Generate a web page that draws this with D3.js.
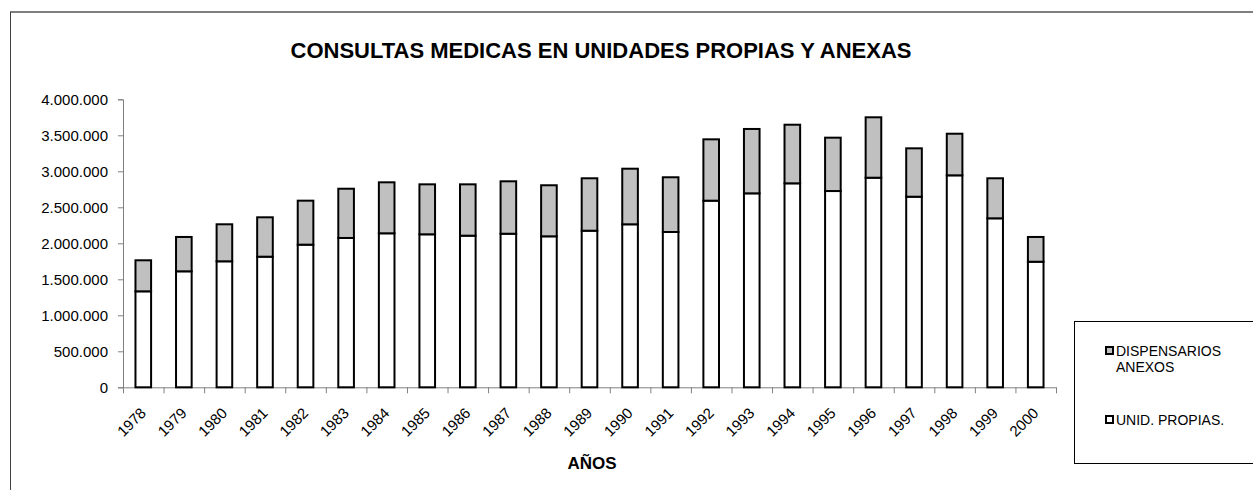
<!DOCTYPE html>
<html>
<head>
<meta charset="utf-8">
<script src="https://cdn.jsdelivr.net/npm/d3@7"></script>
<style>
  html, body { margin: 0; padding: 0; background: #fff; }
  svg { display: block; font-family: "Liberation Sans", Arial, sans-serif; }
</style>
</head>
<body>
<svg id="chart" width="1253" height="490"></svg>
<script>
const years = ["1978","1979","1980","1981","1982","1983","1984","1985","1986","1987","1988","1989","1990","1991","1992","1993","1994","1995","1996","1997","1998","1999","2000"];
const propias = [1333000,1611000,1750000,1814000,1981000,2074000,2139000,2125000,2106000,2133000,2097000,2175000,2264000,2157000,2592000,2694000,2833000,2726000,2911000,2647000,2944000,2347000,1744000];
const totals  = [1764000,2088000,2264000,2361000,2592000,2758000,2847000,2819000,2819000,2861000,2806000,2903000,3036000,2917000,3444000,3588000,3647000,3467000,3750000,3319000,3522000,2903000,2088000];
const anexos = totals.map((t, i) => t - propias[i]);
const yTicks = [0,500000,1000000,1500000,2000000,2500000,3000000,3500000,4000000];
const seriesNames = ["UNID. PROPIAS.", "DISPENSARIOS ANEXOS"];
const seriesColors = ["#ffffff", "#c0c0c0"];
const titleText = "CONSULTAS MEDICAS EN UNIDADES PROPIAS Y ANEXAS";
const xTitle = "AÑOS";

const svg = d3.select("#chart");
const pLeft = 123, pRight = 1056, pTop = 99.3, pBottom = 387.3;

// outer frame
svg.append("line").attr("x1", 10).attr("x2", 1253).attr("y1", 12).attr("y2", 12)
  .attr("stroke", "#7f7f7f").attr("stroke-width", 2);
svg.append("line").attr("x1", 10.5).attr("x2", 10.5).attr("y1", 12).attr("y2", 490)
  .attr("stroke", "#404040").attr("stroke-width", 1);

const x = d3.scaleBand().domain(years).range([pLeft, pRight]).paddingInner(0.615).paddingOuter(0.3075);
const y = d3.scaleLinear().domain([0, 4000000]).range([pBottom, pTop]);
const xEdges = d3.scaleLinear().domain([0, years.length]).range([pLeft, pRight]);

// title
svg.append("text").attr("x", 601).attr("y", 58).attr("text-anchor", "middle")
  .attr("font-size", 22).attr("font-weight", "bold").attr("fill", "#000").text(titleText);

// y axis
const fmt = d3.formatLocale({decimal: ",", thousands: ".", grouping: [3], currency: ["", ""]}).format(",d");
const yAxis = svg.append("g").attr("transform", `translate(${pLeft},0)`)
  .call(d3.axisLeft(y).tickValues(yTicks).tickFormat(fmt).tickSize(5).tickPadding(10));
yAxis.select(".domain").attr("stroke", "#808080");
yAxis.selectAll(".tick line").attr("stroke", "#808080");
yAxis.selectAll(".tick text").attr("font-size", 15).attr("fill", "#000")
  .attr("font-family", "Liberation Sans, Arial, sans-serif");

// x axis
const xAxis = svg.append("g").attr("transform", `translate(0,${pBottom})`)
  .call(d3.axisBottom(xEdges).tickValues(d3.range(0, years.length + 1)).tickFormat("").tickSize(6).tickSizeOuter(0));
xAxis.select(".domain").attr("stroke", "#808080");
xAxis.selectAll(".tick line").attr("stroke", "#808080");

// x labels
svg.append("g").selectAll("text").data(years).join("text")
  .attr("transform", d => `translate(${x(d) + x.bandwidth() / 2},${pBottom + 23}) rotate(-45)`)
  .attr("text-anchor", "end").attr("dy", "0.35em")
  .attr("font-size", 15).attr("fill", "#000").text(d => d);

// bars
const stack = d3.stack().keys([0, 1]).value((d, k) => k === 0 ? d.p : d.a);
const rows = years.map((yr, i) => ({year: yr, p: propias[i], a: anexos[i]}));
const layers = stack(rows);
svg.append("g").selectAll("g").data(layers).join("g")
  .attr("fill", (d, i) => seriesColors[i])
  .selectAll("rect").data(d => d).join("rect")
  .attr("x", d => x(d.data.year))
  .attr("width", x.bandwidth())
  .attr("y", d => y(d[1]))
  .attr("height", d => y(d[0]) - y(d[1]))
  .attr("stroke", "#000").attr("stroke-width", 2);

// x title
svg.append("text").attr("x", 592).attr("y", 469).attr("text-anchor", "middle")
  .attr("font-size", 17).attr("font-weight", "bold").attr("fill", "#000").text(xTitle);

// legend
svg.append("rect").attr("x", 1074.5).attr("y", 321.5).attr("width", 190).attr("height", 142)
  .attr("fill", "#fff").attr("stroke", "#000").attr("stroke-width", 1);
const legendItems = [
  {color: seriesColors[1], lines: ["DISPENSARIOS", "ANEXOS"], cy: 351},
  {color: seriesColors[0], lines: [seriesNames[0]], cy: 420}
];
const lg = svg.append("g").selectAll("g").data(legendItems).join("g");
lg.append("rect").attr("x", 1106).attr("y", d => d.cy - 4).attr("width", 7).attr("height", 7)
  .attr("fill", d => d.color).attr("stroke", "#000").attr("stroke-width", 2);
lg.append("text").attr("x", 1116).attr("y", d => d.cy + 5).attr("font-size", 14).attr("fill", "#000")
  .selectAll("tspan").data(d => d.lines).join("tspan")
  .attr("x", 1116).attr("dy", (d, i) => i === 0 ? 0 : 16).text(d => d);
</script>
</body>
</html>
